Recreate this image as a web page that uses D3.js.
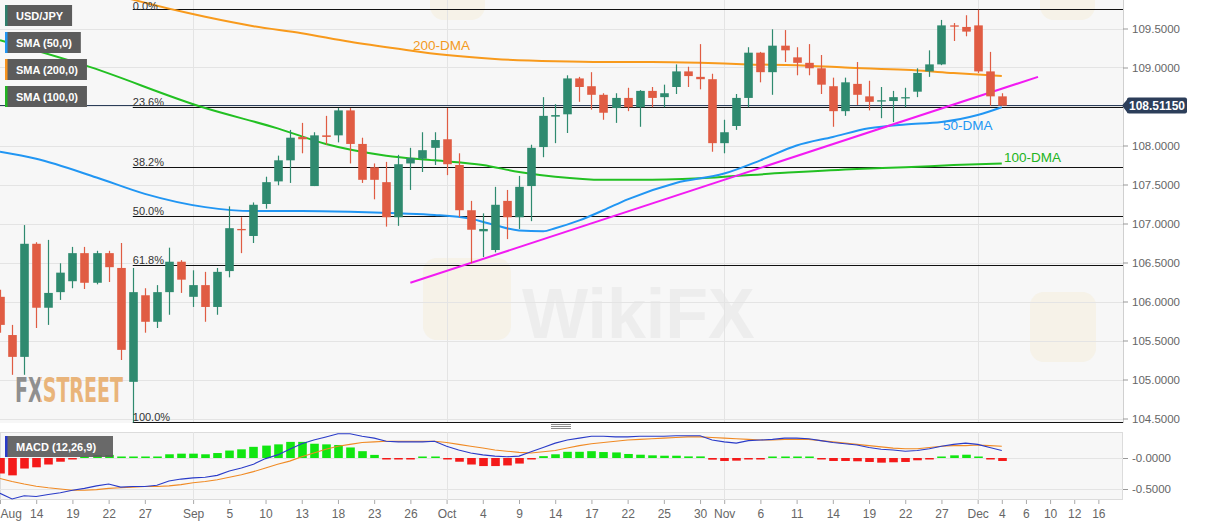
<!DOCTYPE html>
<html>
<head>
<meta charset="utf-8">
<script src="https://cdn.jsdelivr.net/npm/d3@7"></script>
<style>
  body { margin: 0; background: #fff; font-family: "Liberation Sans", Arial, sans-serif; }
</style>
</head>
<body>
<div id="chart"></div>
<script>
// ---- data ----
var firstDay = "2019-08-09", lastDay = "2019-12-18";

// daily candles from Aug 9, [open, high, low, close]
var ohlc = [
  [106.06,106.15,105.60,105.70],[105.57,105.70,105.06,105.29],[105.29,106.98,105.06,106.74],
  [106.74,106.76,105.66,105.92],[105.92,106.79,105.70,106.11],[106.12,106.49,106.02,106.37],
  [106.26,106.70,106.17,106.62],[106.62,106.70,106.16,106.24],[106.24,106.65,106.22,106.62],
  [106.62,106.65,106.25,106.44],[106.43,106.75,105.25,105.38],[104.97,106.43,104.45,106.12],
  [106.08,106.17,105.60,105.74],[105.74,106.21,105.66,106.12],[106.12,106.69,105.83,106.51],
  [106.51,106.53,106.11,106.28],[106.06,106.40,105.93,106.21],[106.21,106.38,105.74,105.93],
  [105.93,106.43,105.83,106.38],[106.39,107.22,106.31,106.94],[106.93,107.08,106.62,106.92],
  [106.84,107.27,106.75,107.24],[107.25,107.60,107.19,107.53],[107.54,107.87,107.49,107.81],
  [107.81,108.20,107.52,108.10],[108.11,108.29,107.90,108.08],[107.48,108.17,107.48,108.13],
  [108.13,108.38,108.01,108.11],[108.13,108.48,108.04,108.45],[108.45,108.48,107.77,108.02],
  [108.02,108.10,107.52,107.56],[107.72,107.77,107.31,107.56],[107.53,107.79,106.96,107.08],
  [107.08,107.88,106.97,107.76],[107.77,107.97,107.43,107.84],[107.83,108.17,107.66,107.94],
  [107.97,108.17,107.75,108.07],[108.08,108.48,107.62,107.76],[107.75,107.90,107.08,107.17],
  [107.17,107.29,106.49,106.92],[106.90,107.13,106.57,106.93],[106.66,107.47,106.63,107.24],
  [107.29,107.43,106.80,107.08],[107.08,107.61,106.93,107.47],[107.48,108.01,107.03,107.97],
  [107.98,108.62,107.85,108.38],[108.37,108.53,108.03,108.39],[108.40,108.90,108.16,108.86],
  [108.86,108.88,108.56,108.75],[108.76,108.94,108.46,108.65],[108.65,108.67,108.33,108.42],
  [108.48,108.67,108.29,108.61],[108.61,108.74,108.44,108.49],[108.49,108.71,108.24,108.70],
  [108.70,108.75,108.49,108.61],[108.62,108.78,108.49,108.67],[108.75,109.04,108.66,108.95],
  [108.95,109.01,108.75,108.89],[108.88,109.30,108.72,108.85],[108.85,108.92,107.92,108.03],
  [108.03,108.33,107.90,108.17],[108.25,108.66,108.20,108.61],[108.61,109.26,108.49,109.19],
  [109.19,109.20,108.81,108.94],[108.94,109.49,108.65,109.28],[109.28,109.48,109.07,109.22],
  [109.13,109.26,108.90,109.06],[109.06,109.30,108.90,108.99],[108.99,109.16,108.66,108.78],
  [108.76,108.87,108.24,108.44],[108.44,108.87,108.38,108.81],[108.79,109.07,108.52,108.65],
  [108.63,108.83,108.45,108.56],[108.57,108.75,108.35,108.58],[108.57,108.70,108.30,108.62],
  [108.61,108.74,108.49,108.62],[108.69,108.99,108.62,108.93],[108.95,109.22,108.88,109.04],
  [109.04,109.61,109.03,109.54],[109.54,109.57,109.34,109.53],[109.52,109.67,109.40,109.46],
  [109.54,109.74,108.93,108.95],[108.95,109.20,108.51,108.63],[108.63,108.67,108.51,108.5115]
];

// moving averages, [day index, value]
var sma50 = [[0,107.92],[3,107.83],[8,107.59],[12,107.38],[17,107.21],[21,107.16],[25,107.16],
  [29,107.15],[33,107.13],[36,107.11],[39,107.06],[41,106.98],[43,106.91],[45,106.90],[46,106.94],
  [48,107.04],[50,107.17],[52,107.31],[56,107.52],[60,107.64],[63,107.81],[66,108.00],[69,108.11],
  [72,108.22],[75,108.27],[78,108.30],[81,108.39],[83,108.49]];
var sma100 = [[0,109.35],[7,109.03],[17,108.48],[23,108.22],[27,108.02],[32,107.87],[36,107.81],
  [40,107.75],[43,107.66],[46,107.60],[50,107.56],[53,107.56],[58,107.58],[65,107.65],[71,107.70],
  [75,107.72],[79,107.75],[83,107.77]];
var sma200 = [[8,110.00],[11,109.87],[17,109.65],[21,109.53],[25,109.44],[29,109.33],[33,109.24],
  [37,109.16],[41,109.11],[46,109.08],[50,109.07],[54,109.07],[58,109.06],[62,109.04],[66,109.03],
  [70,109.00],[75,108.97],[79,108.93],[83,108.89]];
var trendLine = [[34,106.24],[86,108.88]];

var fibHigh = 109.746, fibLow = 104.45, fibStart = "2019-08-26";
var fibRatios = [0, 0.236, 0.382, 0.5, 0.618, 1];
var fibLabels = ["0.0%", "23.6%", "38.2%", "50.0%", "61.8%", "100.0%"];
var lastPrice = 108.5115;

// MACD (12,26,9) per day from Aug 9
var macdLine = [-0.57,-0.66,-0.61,-0.62,-0.59,-0.56,-0.52,-0.49,-0.45,-0.42,-0.47,-0.46,-0.46,-0.44,
  -0.37,-0.34,-0.32,-0.31,-0.28,-0.21,-0.16,-0.10,-0.01,0.05,0.14,0.23,0.29,0.34,0.39,0.39,0.35,
  0.32,0.27,0.26,0.26,0.26,0.27,0.19,0.13,0.08,0.05,0.03,0.02,0.03,0.10,0.17,0.24,0.29,0.32,0.35,
  0.35,0.34,0.34,0.35,0.35,0.35,0.36,0.36,0.36,0.29,0.26,0.24,0.28,0.29,0.30,0.32,0.32,0.31,0.28,
  0.25,0.23,0.21,0.17,0.14,0.13,0.11,0.12,0.15,0.19,0.22,0.24,0.22,0.17,0.12];
var signalLine = [-0.33,-0.38,-0.42,-0.455,-0.48,-0.50,-0.52,-0.52,-0.51,-0.49,-0.48,-0.47,-0.46,
  -0.46,-0.45,-0.43,-0.40,-0.38,-0.35,-0.31,-0.27,-0.22,-0.16,-0.10,-0.05,0.02,0.08,0.14,0.19,0.22,
  0.25,0.26,0.27,0.27,0.27,0.27,0.27,0.25,0.22,0.19,0.16,0.13,0.11,0.09,0.08,0.10,0.12,0.16,0.20,
  0.23,0.25,0.27,0.29,0.30,0.31,0.32,0.33,0.34,0.34,0.33,0.32,0.31,0.30,0.29,0.29,0.30,0.30,0.30,
  0.28,0.26,0.24,0.22,0.20,0.18,0.16,0.15,0.15,0.17,0.19,0.20,0.20,0.21,0.20,0.19];
var macdHist = [-0.25,-0.28,-0.17,-0.15,-0.105,-0.06,-0.02,0.02,0.05,0.05,0.01,0.01,0.01,0.02,0.06,
  0.07,0.07,0.06,0.08,0.12,0.14,0.18,0.20,0.22,0.26,0.26,0.23,0.22,0.21,0.17,0.11,0.05,-0.01,-0.01,
  -0.01,0.005,0.005,-0.005,-0.06,-0.105,-0.13,-0.13,-0.12,-0.09,-0.02,0.03,0.06,0.10,0.10,0.11,
  0.096,0.09,0.065,0.053,0.043,0.037,0.037,0.026,0.026,-0.027,-0.048,-0.043,-0.016,-0.01,0.016,
  0.016,0.016,0.005,-0.01,-0.048,-0.048,-0.053,-0.064,-0.075,-0.069,-0.064,-0.037,-0.016,0.016,
  0.043,0.053,0.016,-0.016,-0.048];

var priceTicks = [104.5,105,105.5,106,106.5,107,107.5,108,108.5,109,109.5];
var macdTicks = [0, -0.5];
var monthStarts = ["2019-09-02","2019-10-01","2019-11-01","2019-12-02"];
var dateTicks = [["2019-08-09","Aug"],["2019-08-14","14"],["2019-08-19","19"],["2019-08-22","22"],
  ["2019-08-27","27"],["2019-09-02","Sep"],["2019-09-05","5"],["2019-09-10","10"],["2019-09-13","13"],
  ["2019-09-18","18"],["2019-09-23","23"],["2019-09-26","26"],["2019-10-01","Oct"],["2019-10-04","4"],
  ["2019-10-09","9"],["2019-10-14","14"],["2019-10-17","17"],["2019-10-22","22"],["2019-10-25","25"],
  ["2019-10-30","30"],["2019-11-01","Nov"],["2019-11-06","6"],["2019-11-11","11"],["2019-11-14","14"],
  ["2019-11-19","19"],["2019-11-22","22"],["2019-11-27","27"],["2019-12-02","Dec"],["2019-12-04","4"],
  ["2019-12-06","6"],["2019-12-10","10"],["2019-12-12","12"],["2019-12-16","16"]];

var legendItems = [["USD/JPY","#2f7f6c"],["SMA (50,0)","#2196f3"],["SMA (200,0)","#f7931e"],["SMA (100,0)","#22b422"]];

// ---- layout ----
var W = 1207, H = 526;
var plotRight = 1123, mainBot = 423, macdTop = 432, macdBot = 500;
var upCol = "#2f8a6f", downCol = "#e05c43";

var parse = d3.timeParse("%Y-%m-%d"), fmt = d3.timeFormat("%Y-%m-%d");
var days = d3.timeDay.range(parse(firstDay), parse(lastDay))
  .filter(function(d) { return d.getDay() % 6 !== 0; }).map(fmt);
var dayIdx = {};
days.forEach(function(d, i) { dayIdx[d] = i; });

var x = d3.scaleLinear().domain([0, 93]).range([0, 1122.5]);
var y = d3.scaleLinear().domain([104.5, 109.5]).range([418.5, 28.5]);
var ym = d3.scaleLinear().domain([-0.5, 0]).range([489, 458]);

var svg = d3.select("#chart").append("svg").attr("width", W).attr("height", H);
var defs = svg.append("defs");
defs.append("clipPath").attr("id", "clipMain").append("rect")
  .attr("x", 0).attr("y", 0).attr("width", plotRight).attr("height", mainBot);
defs.append("clipPath").attr("id", "clipMacd").append("rect")
  .attr("x", 0).attr("y", macdTop).attr("width", plotRight).attr("height", macdBot - macdTop);
// two-tone fill for the FXSTREET mark
var lg = defs.append("linearGradient").attr("id", "fxFill").attr("gradientUnits", "userSpaceOnUse")
  .attr("x1", 15).attr("x2", 123).attr("y1", 0).attr("y2", 0);
lg.append("stop").attr("offset", 0.235).attr("stop-color", "#8f8f8f");
lg.append("stop").attr("offset", 0.235).attr("stop-color", "#e9b47a");

// panel backgrounds
svg.append("rect").attr("x", 0).attr("y", 0).attr("width", plotRight).attr("height", mainBot).attr("fill", "#f7f7f7");
svg.append("rect").attr("x", 0.5).attr("y", macdTop + 0.5).attr("width", plotRight - 1).attr("height", macdBot - macdTop - 1)
  .attr("fill", "#f7f7f7").attr("stroke", "#dcdcdc");

// watermarks (faint)
var wm = svg.append("g").attr("clip-path", "url(#clipMain)");
[[423, 258, 88, 82], [1030, 292, 66, 70], [430, -40, 55, 60], [1040, -40, 55, 60]].forEach(function(b) {
  wm.append("rect").attr("x", b[0]).attr("y", b[1]).attr("width", b[2]).attr("height", b[3]).attr("rx", 14)
    .attr("fill", "#f3e3bb").attr("opacity", 0.25);
});
wm.append("text").attr("x", 522).attr("y", 338).attr("font-size", 70).attr("font-weight", "bold")
  .attr("fill", "#dcdcdc").attr("opacity", 0.35).text("WikiFX");

// grid
var grid = svg.append("g").attr("stroke", "#e4e4e4").attr("shape-rendering", "crispEdges");
grid.selectAll("line.h").data(priceTicks).join("line")
  .attr("x1", 0).attr("x2", plotRight).attr("y1", function(d) { return Math.round(y(d)) + 0.5; })
  .attr("y2", function(d) { return Math.round(y(d)) + 0.5; });
grid.selectAll("line.hm").data(macdTicks).join("line")
  .attr("x1", 0).attr("x2", plotRight).attr("y1", function(d) { return Math.round(ym(d)) + 0.5; })
  .attr("y2", function(d) { return Math.round(ym(d)) + 0.5; });
monthStarts.forEach(function(m) {
  var xx = Math.round(x(dayIdx[m])) + 0.5;
  grid.append("line").attr("x1", xx).attr("x2", xx).attr("y1", 0).attr("y2", mainBot);
  grid.append("line").attr("x1", xx).attr("x2", xx).attr("y1", macdTop).attr("y2", macdBot);
});

// FXSTREET logo
svg.append("text").attr("x", 15).attr("y", 402).attr("font-size", 34).attr("font-weight", "bold")
  .attr("font-family", "'Liberation Sans Narrow', 'DejaVu Sans Condensed', sans-serif")
  .attr("textLength", 108).attr("lengthAdjust", "spacingAndGlyphs").attr("fill", "url(#fxFill)").text("FXSTREET");

var main = svg.append("g").attr("clip-path", "url(#clipMain)");

// fibonacci levels
var fx0 = x(dayIdx[fibStart]);
fibRatios.forEach(function(r, i) {
  var v = fibHigh - r * (fibHigh - fibLow);
  var yy = Math.round(y(v)) + 0.5;
  main.append("line").attr("x1", fx0).attr("x2", plotRight).attr("y1", yy).attr("y2", yy)
    .attr("stroke", "#111").attr("stroke-width", 1);
  svg.append("text").attr("x", fx0).attr("y", Math.max(yy - 2, 9.5)).attr("font-size", 11).attr("fill", "#333").text(fibLabels[i]);
});

// last price line
var lpY = Math.round(y(lastPrice)) - 0.5;
main.append("line").attr("x1", 0).attr("x2", plotRight).attr("y1", lpY).attr("y2", lpY)
  .attr("stroke", "#2c3e5a").attr("stroke-width", 1);

// moving averages
var maLine = d3.line().curve(d3.curveMonotoneX)
  .x(function(d) { return x(d[0]); }).y(function(d) { return y(d[1]); });
[[sma200, "#f89a1c"], [sma100, "#22c022"], [sma50, "#2196f3"]].forEach(function(s) {
  main.append("path").datum(s[0]).attr("fill", "none").attr("stroke", s[1]).attr("stroke-width", 2).attr("d", maLine);
});
main.append("path").datum(trendLine).attr("fill", "none").attr("stroke", "#f21bf2").attr("stroke-width", 2)
  .attr("d", d3.line().x(function(d) { return x(d[0]); }).y(function(d) { return y(d[1]); }));

// candles
var cg = main.append("g");
cg.selectAll("line").data(ohlc).join("line")
  .attr("x1", function(d, i) { return Math.round(x(i)) + 0.5; })
  .attr("x2", function(d, i) { return Math.round(x(i)) + 0.5; })
  .attr("y1", function(d) { return y(d[1]); }).attr("y2", function(d) { return y(d[2]); })
  .attr("stroke", function(d) { return d[3] >= d[0] ? upCol : downCol; }).attr("stroke-width", 1.2);
cg.selectAll("rect").data(ohlc).join("rect")
  .attr("x", function(d, i) { return Math.round(x(i)) + 0.5 - 4.3; }).attr("width", 8.6)
  .attr("y", function(d) { return y(Math.max(d[0], d[3])); })
  .attr("height", function(d) { return Math.max(1.3, Math.abs(y(d[0]) - y(d[3]))); })
  .attr("fill", function(d) { return d[3] >= d[0] ? upCol : downCol; });

// MA labels
[["200-DMA", 413, 50, "#f39a1e"], ["50-DMA", 943, 130, "#2196f3"], ["100-DMA", 1004, 162, "#22b422"]].forEach(function(t) {
  svg.append("text").attr("x", t[1]).attr("y", t[2]).attr("font-size", 13.5).attr("fill", t[3]).text(t[0]);
});

// legend boxes
legendItems.forEach(function(it, i) {
  var g = svg.append("g").attr("transform", "translate(5," + (5 + i * 27) + ")");
  var txt = g.append("text").attr("x", 11).attr("y", 14.5).attr("font-size", 11).attr("font-weight", "bold")
    .attr("fill", "#fff").text(it[0]);
  var w = txt.node().getComputedTextLength() + 20;
  g.insert("rect", "text").attr("width", w).attr("height", 21).attr("fill", "#5c5c5c");
  g.insert("rect", "text").attr("width", 2.5).attr("height", 21).attr("fill", it[1]);
});

// separator handle
[424.5, 426.5, 428.5].forEach(function(yy) {
  svg.append("line").attr("x1", 551).attr("x2", 571).attr("y1", yy).attr("y2", yy).attr("stroke", "#8a8a8a");
});

// MACD panel
var mg = svg.append("g").attr("clip-path", "url(#clipMacd)");
mg.selectAll("rect").data(macdHist).join("rect")
  .attr("x", function(d, i) { return Math.round(x(i)) + 0.5 - 4.3; }).attr("width", 8.6)
  .attr("y", function(d) { return d >= 0 ? ym(d) - (Math.abs(ym(d) - ym(0)) < 1.5 ? 1.5 - Math.abs(ym(d) - ym(0)) : 0) : ym(0); })
  .attr("height", function(d) { return Math.max(1.5, Math.abs(ym(d) - ym(0))); })
  .attr("fill", function(d) { return d >= 0 ? "#11e611" : "#f41a1a"; });
var ml = d3.line().x(function(d, i) { return x(i); }).y(function(d) { return ym(d); });
mg.append("path").datum(signalLine).attr("fill", "none").attr("stroke", "#f08a24").attr("stroke-width", 1.1).attr("d", ml);
mg.append("path").datum(macdLine).attr("fill", "none").attr("stroke", "#2a3bc8").attr("stroke-width", 1.1).attr("d", ml);

var mlg = svg.append("g").attr("transform", "translate(5,436)");
mlg.append("rect").attr("width", 108).attr("height", 21).attr("fill", "#5c5c5c").attr("opacity", 0.92);
mlg.append("rect").attr("width", 2.5).attr("height", 21).attr("fill", "#2a3bc8");
mlg.append("text").attr("x", 11).attr("y", 14.5).attr("font-size", 11).attr("font-weight", "bold").attr("fill", "#fff").text("MACD (12,26,9)");

// axes
var yAxis = svg.append("g").attr("transform", "translate(" + plotRight + ",0)")
  .call(d3.axisRight(y).tickValues(priceTicks).tickFormat(d3.format(".4f")).tickSize(5).tickPadding(4));
yAxis.select(".domain").attr("d", "M0.5,0V" + mainBot).attr("stroke", "#d0d0d0");
// the 108.5 label sits under the last-price tag
yAxis.selectAll(".tick text").filter(function(d) { return d === 108.5; }).remove();
var mAxis = svg.append("g").attr("transform", "translate(" + plotRight + ",0)")
  .call(d3.axisRight(ym).tickValues(macdTicks)
    .tickFormat(function(d) { return (d <= 0 ? "-" : "") + Math.abs(d).toFixed(4); }).tickSize(5).tickPadding(4));
mAxis.select(".domain").remove();
[yAxis, mAxis].forEach(function(a) {
  a.selectAll(".tick line").attr("stroke", "#999");
  a.selectAll(".tick text").attr("fill", "#666").attr("font-size", 11.5).attr("font-family", "'Liberation Sans', Arial, sans-serif");
});

var xAxis = svg.append("g").attr("transform", "translate(0," + macdBot + ")")
  .call(d3.axisBottom(x).tickValues(dateTicks.map(function(t) { return dayIdx[t[0]]; }))
    .tickFormat(function(d, i) { return dateTicks[i][1]; }).tickSize(4).tickPadding(5));
xAxis.select(".domain").remove();
xAxis.selectAll(".tick line").attr("stroke", "#aaa");
xAxis.selectAll(".tick text").attr("fill", "#666").attr("font-size", 12).attr("font-family", "'Liberation Sans', Arial, sans-serif");
xAxis.select(".tick text").attr("text-anchor", "start").attr("x", 0);

// last price tag
var tag = svg.append("g");
var ly = y(lastPrice);
tag.append("path").attr("d", "M" + (plotRight - 1) + "," + ly + "L1128," + (ly - 7) + "L1128," + (ly + 8) + "Z").attr("fill", "#2c3e5a");
tag.append("rect").attr("x", 1127).attr("y", ly - 8).attr("width", 60).attr("height", 16).attr("rx", 2).attr("fill", "#2c3e5a");
tag.append("text").attr("x", 1157).attr("y", ly + 4.5).attr("text-anchor", "middle").attr("font-size", 12)
  .attr("font-weight", "bold").attr("fill", "#fff").text(d3.format(".5f")(lastPrice));
</script>
</body>
</html>
